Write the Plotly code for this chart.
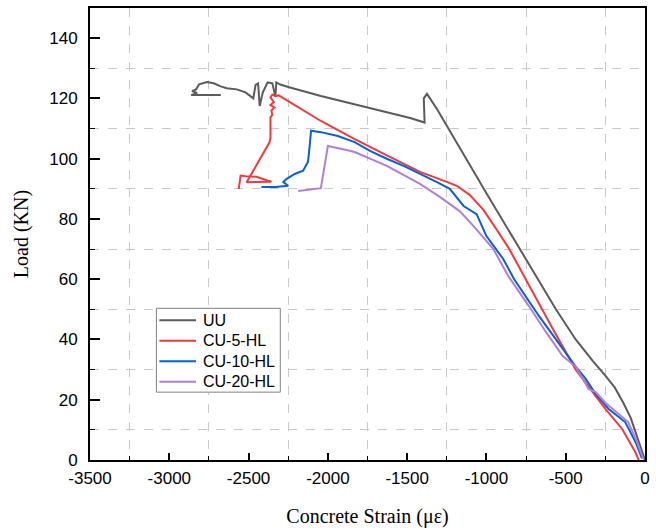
import plotly.graph_objects as go

# ---- data ----
uu_x = [0, -20, -50, -90, -137, -190, -250, -331, -437, -562, -675, -1000, -1312, -1375, -1395, -1390,
        -1481, -1625, -1831, -2044, -2250, -2300, -2325, -2331, -2350, -2380, -2410, -2430, -2440,
        -2456, -2470, -2519, -2575, -2637, -2675, -2720, -2762, -2812, -2831, -2856, -2825, -2862, -2675]
uu_y = [0, 3, 8, 14, 19, 24, 28, 33, 40, 50, 60, 88.5, 116.5, 121.5, 120, 112,
        113.5, 115.4, 118.1, 120.8, 123.8, 124.6, 125.3, 120.5, 125, 125.3, 122, 117.5, 125,
        124.5, 120, 122, 123, 123.4, 124, 125, 125.4, 124.7, 123, 122.4, 121.8, 121.1, 121.1]

cu5_x = [-40, -62, -144, -250, -331, -437, -581, -762, -856, -937, -1019, -1106, -1187, -1250, -1312,
         -1419, -1625, -1831, -2044, -2250, -2310, -2325, -2350, -2362, -2340, -2362, -2337, -2356,
         -2350, -2362, -2362, -2367, -2512, -2356, -2450, -2519, -2550, -2562]
cu5_y = [0, 2.7, 10.3, 17, 22.6, 30, 43.5, 61, 70, 76.6, 83, 88, 91, 92.3, 93.6,
         95.6, 101, 106.5, 112.5, 119.1, 121, 120.8, 121.2, 120.3, 118.8, 117.8, 117, 116,
         114.5, 113.8, 107, 105.5, 92.2, 92.3, 94, 94.2, 94.4, 90]

cu10_x = [-19, -60, -125, -231, -312, -375, -437, -519, -669, -825, -894, -1000, -1062, -1144, -1231,
          -1312, -1419, -1519, -1625, -1731, -1831, -1937, -2044, -2106, -2115, -2125, -2156, -2206,
          -2262, -2281, -2250, -2331, -2419]
cu10_y = [0.5, 6, 12.6, 17, 22, 27, 31, 36.8, 47.8, 60, 66.7, 74.3, 81.6, 84.3, 90,
          92.2, 95, 97.5, 99.9, 102.5, 105.5, 107.5, 108.8, 109.3, 104, 99, 96, 95,
          93.2, 92.2, 91, 90.6, 90.6]

cu20_x = [-12, -50, -106, -250, -312, -356, -437, -519, -625, -731, -862, -956, -1081, -1169, -1294,
          -1419, -1625, -1831, -1875, -2000, -2044, -2169, -2187]
cu20_y = [0.5, 6, 12.6, 19, 22.6, 23.6, 31, 34.5, 42.5, 51, 61, 70, 77.6, 82.6, 87.3,
          91.6, 97.5, 102.2, 102.8, 104.2, 90.2, 89.2, 89.3]

series_names = ["UU", "CU-5-HL", "CU-10-HL", "CU-20-HL"]
series_colors = ["#5b5b5b", "#f5383a", "#0a5ed6", "#b07edc"]
x_ticks = [-3500, -3000, -2500, -2000, -1500, -1000, -500, 0]
y_ticks = [0, 20, 40, 60, 80, 100, 120, 140]

fig = go.Figure()
for name, xs, ys, col in zip(series_names,
                             [uu_x, cu5_x, cu10_x, cu20_x],
                             [uu_y, cu5_y, cu10_y, cu20_y],
                             series_colors):
    fig.add_trace(go.Scatter(x=xs, y=ys, mode="lines", name=name, showlegend=False,
                             line=dict(color=col, width=2)))

tick_font = dict(family="Liberation Sans, Arial", size=17, color="black")
title_font = dict(family="Liberation Serif, Times New Roman", size=20, color="black")
grid_col = "#c8c8c8"

# ---- legend box drawn in paper coordinates (plot area 560 x 453 px) ----
PW, PH = 560.0, 453.0
def px(xp):
    return (xp - 90) / PW
def py(yp):
    return (461 - yp) / PH

shapes = [dict(type="rect", xref="paper", yref="paper",
               x0=px(157), x1=px(282), y0=py(393), y1=py(309),
               line=dict(color="#808080", width=1), fillcolor="white", layer="above")]
annotations = []
for i, (name, col) in enumerate(zip(series_names, series_colors)):
    yy = 321 + i * 20.5
    shapes.append(dict(type="line", xref="paper", yref="paper",
                       x0=px(160), x1=px(197), y0=py(yy), y1=py(yy),
                       line=dict(color=col, width=2), layer="above"))
    annotations.append(dict(xref="paper", yref="paper", x=px(202), y=py(yy),
                            xanchor="left", yanchor="middle", showarrow=False, text=name,
                            font=dict(family="Liberation Sans, Arial", size=16, color="black")))

fig.update_layout(
    width=656, height=530,
    margin=dict(l=90, r=6, t=8, b=69),
    paper_bgcolor="white", plot_bgcolor="white",
    showlegend=False,
    shapes=shapes,
    annotations=annotations,
)
fig.update_xaxes(
    range=[-3500, 0], tickvals=x_ticks, ticktext=[str(v) for v in x_ticks],
    showline=True, linecolor="black", linewidth=2, mirror=True,
    ticks="inside", ticklen=7, tickwidth=2, tickcolor="black",
    showgrid=False, zeroline=False,
    minor=dict(tickvals=[-3250, -2750, -2250, -1750, -1250, -750, -250],
               ticks="inside", ticklen=4, tickwidth=1, tickcolor="black",
               showgrid=True, gridcolor=grid_col, griddash="dash", gridwidth=1),
    tickfont=tick_font, ticklabelstandoff=2,
    title=dict(text="Concrete Strain (με)", font=title_font, standoff=22),
)
fig.update_yaxes(
    range=[0, 150], tickvals=y_ticks,
    showline=True, linecolor="black", linewidth=2, mirror=True,
    ticks="inside", ticklen=10, tickwidth=2, tickcolor="black",
    showgrid=False, zeroline=False,
    minor=dict(tickvals=[10, 30, 50, 70, 90, 110, 130],
               ticks="inside", ticklen=5, tickwidth=1, tickcolor="black",
               showgrid=True, gridcolor=grid_col, griddash="dash", gridwidth=1),
    tickfont=tick_font, ticklabelstandoff=7,
    title=dict(text="Load (KN)", font=title_font, standoff=15),
)

fig.write_html("out.html", config={"displayModeBar": False})
